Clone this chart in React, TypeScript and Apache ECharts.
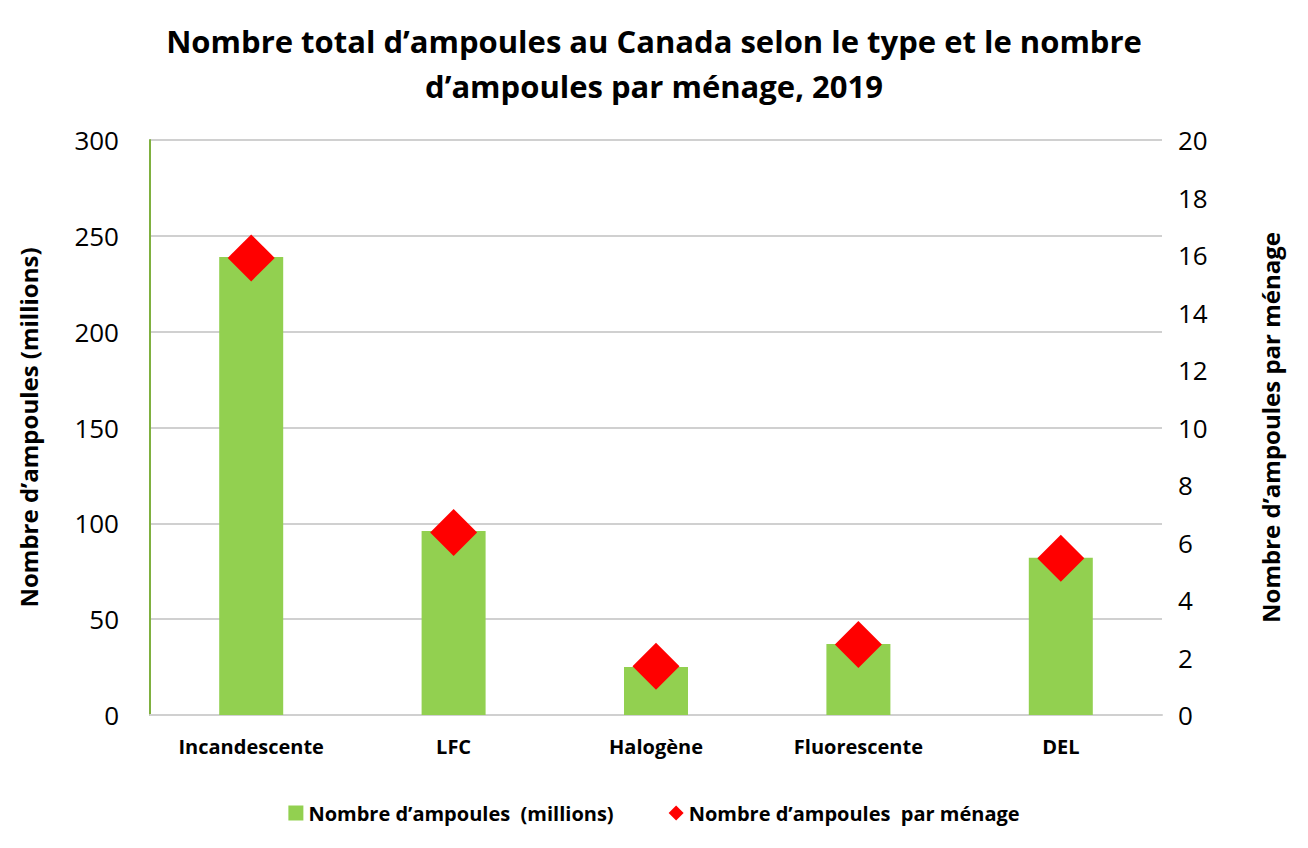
import React, { useEffect, useRef } from "react";
import * as echarts from "echarts";

const categories = ["Incandescente", "LFC", "Halogène", "Fluorescente", "DEL"];
const bulbsMillions = [239, 96, 25, 37, 82];
const bulbsPerHousehold = [15.9, 6.35, 1.7, 2.45, 5.45];
const leftTicks = { min: 0, max: 300, interval: 50 };
const rightTicks = { min: 0, max: 20, interval: 2 };

const FONT = "'Open Sans', 'Noto Sans', sans-serif";

export default function App() {
  const ref = useRef<HTMLDivElement>(null);
  useEffect(() => {
    if (!ref.current) return;
    const chart = echarts.init(ref.current, null, { renderer: "svg" });
    chart.setOption({
      animation: false,
      backgroundColor: "#ffffff",
      title: {
        text: "Nombre total d’ampoules au Canada selon le type et le nombre\nd’ampoules par ménage, 2019",
        left: "center",
        top: 5,
        textStyle: {
          fontFamily: FONT,
          fontSize: 31,
          fontWeight: "bold",
          color: "#000",
          lineHeight: 45,
        },
      },
      grid: { left: 135, right: 138, top: 132, bottom: 125 },
      legend: {
        top: 790,
        left: "center",
        itemGap: 55,
        itemWidth: 15,
        itemHeight: 15,
        textStyle: { fontFamily: FONT, fontSize: 20, fontWeight: "bold", color: "#000" },
        data: [
          { name: "Nombre d’ampoules  (millions)", icon: "rect" },
          { name: "Nombre d’ampoules  par ménage", icon: "diamond" },
        ],
      },
      xAxis: {
        type: "category",
        data: categories,
        axisLine: { show: true, lineStyle: { color: "#d0d0d0", width: 2 } },
        axisTick: { show: false },
        axisLabel: {
          fontFamily: FONT,
          fontSize: 20,
          fontWeight: "bold",
          color: "#000",
          margin: 21,
        },
      },
      yAxis: [
        {
          type: "value",
          min: leftTicks.min,
          max: leftTicks.max,
          interval: leftTicks.interval,
          name: "Nombre d’ampoules (millions)",
          nameLocation: "middle",
          nameRotate: 90,
          nameGap: 110,
          nameTextStyle: { fontFamily: FONT, fontSize: 24, fontWeight: "bold", color: "#000" },
          axisLine: { show: true, lineStyle: { color: "#7fb03f", width: 2 } },
          axisTick: { show: false },
          axisLabel: { fontFamily: FONT, fontSize: 26, color: "#000", margin: 31 },
          splitLine: { show: true, lineStyle: { color: "#d0d0d0", width: 2 } },
        },
        {
          type: "value",
          min: rightTicks.min,
          max: rightTicks.max,
          interval: rightTicks.interval,
          name: "Nombre d’ampoules par ménage",
          nameLocation: "middle",
          nameRotate: 90,
          nameGap: 96,
          nameTextStyle: { fontFamily: FONT, fontSize: 24, fontWeight: "bold", color: "#000" },
          axisLine: { show: false },
          axisTick: { show: false },
          axisLabel: { fontFamily: FONT, fontSize: 26, color: "#000", margin: 16 },
          splitLine: { show: false },
        },
      ],
      series: [
        {
          name: "Nombre d’ampoules  (millions)",
          type: "bar",
          data: bulbsMillions,
          barWidth: 64,
          itemStyle: { color: "#92d050" },
          yAxisIndex: 0,
        },
        {
          name: "Nombre d’ampoules  par ménage",
          type: "scatter",
          data: bulbsPerHousehold,
          yAxisIndex: 1,
          symbol: "diamond",
          symbolSize: 47,
          itemStyle: { color: "#ff0000", opacity: 1 },
        },
      ],
    });
    return () => chart.dispose();
  }, []);
  return <div ref={ref} style={{ width: 1292, height: 832 }} />;
}
